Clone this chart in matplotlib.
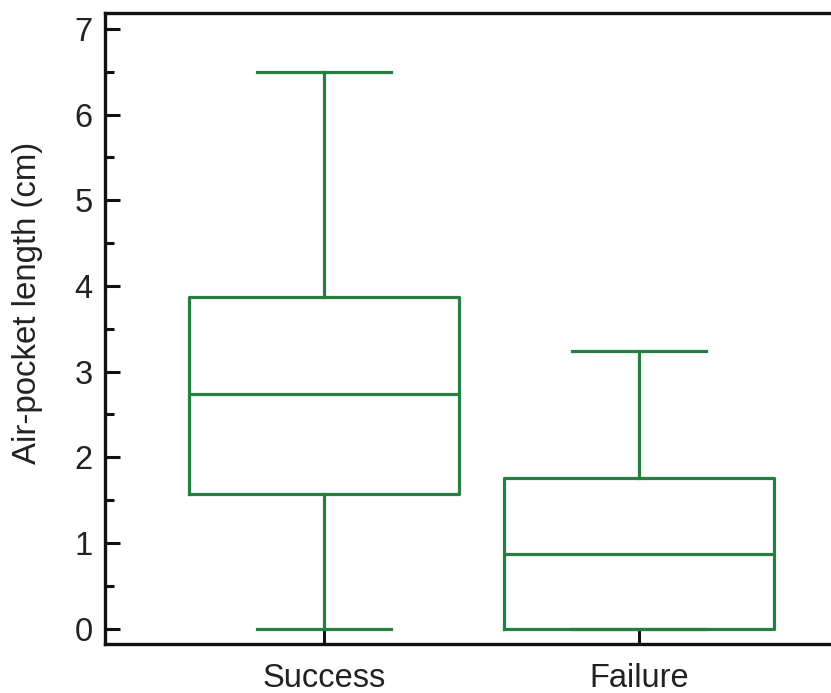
import matplotlib
matplotlib.use("Agg")
import matplotlib.pyplot as plt
from matplotlib.ticker import MultipleLocator

plt.rcParams['font.family'] = ['Liberation Sans', 'DejaVu Sans']

# Box-plot summary statistics (cm)
groups = ["Success", "Failure"]
whisker_low = [0.0, 0.0]
q1 = [1.57, 0.0]
median = [2.74, 0.87]
q3 = [3.87, 1.76]
whisker_high = [6.50, 3.24]

color = "#25803f"

stats = []
for name, lo, a, m, b, hi in zip(groups, whisker_low, q1, median, q3, whisker_high):
    stats.append(dict(label=name, whislo=lo, q1=a, med=m, q3=b, whishi=hi, fliers=[]))

fig = plt.figure(figsize=(8.31, 6.93), dpi=100)
ax = fig.add_axes([0.1264, 0.0707, 0.8736, 0.911])

lw = 2.3
ax.bxp(stats, positions=[1, 2], widths=0.857, capwidths=0.425, showfliers=False,
       boxprops=dict(color=color, linewidth=lw),
       medianprops=dict(color=color, linewidth=lw),
       whiskerprops=dict(color=color, linewidth=lw),
       capprops=dict(color=color, linewidth=lw))

ax.set_xlim(0.305, 2.61)
ax.set_ylim(-0.18, 7.19)
ax.yaxis.set_major_locator(MultipleLocator(1))
ax.yaxis.set_minor_locator(MultipleLocator(0.5))
ax.set_xticks([1, 2])
ax.set_xticklabels(groups)

for s in ax.spines.values():
    s.set_linewidth(2.4)
    s.set_color("#111111")
ax.spines['right'].set_visible(False)

ax.tick_params(axis='both', which='major', direction='in', length=11, width=2.2,
               labelsize=23.5, colors="#111111", labelcolor="#222222")
ax.tick_params(axis='y', which='minor', direction='in', length=6.5, width=2.2, colors="#111111")
ax.tick_params(axis='x', which='minor', bottom=False)
ax.tick_params(axis='y', pad=9)
ax.tick_params(axis='x', pad=14)

ax.set_ylabel("Air-pocket length (cm)", fontsize=23.8, color="#222222")
ax.yaxis.set_label_coords(-0.0854, 0.541)

fig.savefig("out.png", dpi=100)
